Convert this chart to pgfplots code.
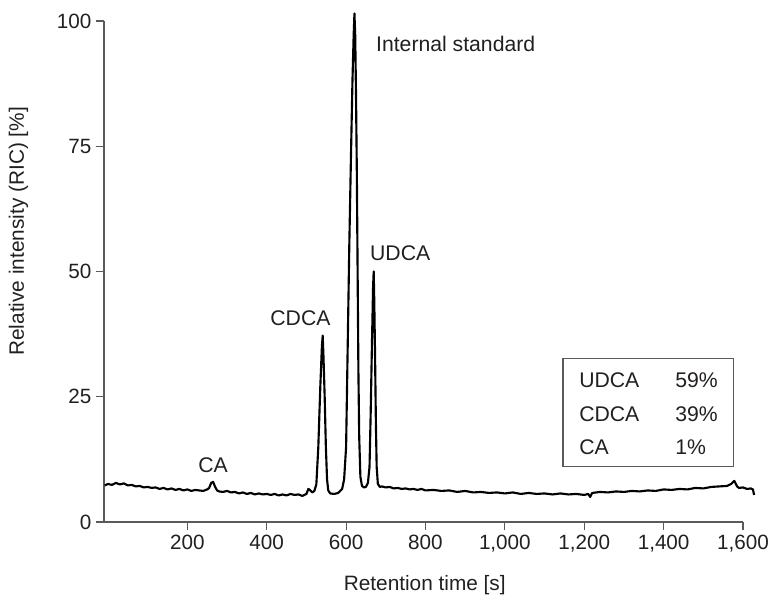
\documentclass[border=0pt]{standalone}
\usepackage{pgfplots}
\pgfplotsset{compat=1.18}
\usepackage{fontspec}
\setmainfont{Liberation Sans}
\definecolor{txt}{HTML}{231F20}
\definecolor{axc}{HTML}{5A5A5A}
\begin{document}
\begin{tikzpicture}[x=1pt,y=1pt]
\path[use as bounding box] (-78,-57.75) rectangle (508.5,391.5);
\begin{axis}[
  at={(0,0)}, anchor=south west,
  scale only axis, width=479.25pt, height=375.75pt,
  xmin=-10, xmax=1600, ymin=0, ymax=100,
  clip=false,
  axis lines*=left,
  axis line style={axc, line width=0.9pt},
  tick style={axc, line width=0.9pt},
  major tick length=6pt,
  tick align=outside,
  xtick={200,400,...,1600},
  ytick={0,25,50,75,100},
  /pgf/number format/assume math mode=true,
  /pgf/number format/1000 sep={,},
  tick label style={font=\fontsize{15.5}{18}\selectfont, text=txt},
  label style={font=\fontsize{15.6}{18}\selectfont, text=txt},
  xlabel={Retention time [s]},
  ylabel={Relative intensity (RIC) [\%]},
  xlabel style={at={(axis description cs:0.502,0)}, anchor=center, yshift=-47.25pt},
  ylabel style={at={(axis description cs:-0.1338,0.58)}, anchor=center},
]
\addplot[black, line width=1.6pt, line join=round, mark=none] coordinates {
(-8,7.3)(0,7.6)(10,7.4)(20,7.8)(30,7.5)(40,7.7)(50,7.3)(60,7.4)(70,7.1)(80,7.2)
(90,6.9)(100,7.0)(110,6.8)(120,6.9)(130,6.6)(140,6.8)(150,6.5)(160,6.7)(170,6.4)(180,6.6)
(190,6.3)(200,6.5)(210,6.2)(220,6.4)(230,6.3)(240,6.2)(250,6.5)(255,6.8)(260,7.8)(265,8.0)
(270,7.0)(275,6.3)(280,6.1)(290,6.0)(300,6.2)(310,5.9)(320,6.0)(330,5.7)(340,5.9)(350,5.6)
(360,5.8)(370,5.5)(380,5.7)(390,5.5)(400,5.6)(410,5.4)(420,5.6)(430,5.3)(440,5.5)(450,5.3)
(460,5.6)(470,5.4)(480,5.5)(490,5.2)(500,5.6)(505,6.6)(510,6.3)(515,5.9)(520,6.2)(525,7.5)
(530,15)(535,27)(539,35)(541,37.2)(543,33)(546,25)(549,15)(552,8.5)(555,6.3)(560,5.7)
(570,5.6)(580,5.8)(590,6.6)(595,8.5)(600,15)(604,35)(608,55)(612,72)(616,88)(619,97)
(621,101.5)(623,97)(625,85)(627,70)(629,50)(631,30)(633,17)(636,9)(640,7.2)(645,6.9)
(650,7.0)(655,7.8)(659,11)(662,22)(665,35)(668,47)(669.5,50)(671,44)(673,33)(675,20)
(677,11)(680,7.6)(685,7.0)(690,7.1)(700,6.9)(710,7.0)(720,6.7)(730,6.8)(740,6.6)(750,6.7)
(760,6.5)(770,6.6)(780,6.4)(790,6.6)(800,6.3)(820,6.4)(840,6.2)(860,6.3)(880,6.0)(900,6.2)
(920,5.9)(940,6.0)(960,5.8)(980,5.9)(1000,5.7)(1020,5.9)(1040,5.6)(1060,5.8)(1080,5.6)(1100,5.7)
(1120,5.5)(1140,5.7)(1160,5.5)(1180,5.6)(1200,5.4)(1210,5.6)(1215,5.0)(1220,5.8)(1240,6.0)(1260,5.9)
(1280,6.1)(1300,6.0)(1320,6.2)(1340,6.1)(1360,6.3)(1380,6.2)(1400,6.5)(1420,6.4)(1440,6.6)(1460,6.5)
(1480,6.8)(1500,6.7)(1520,7.0)(1540,7.1)(1560,7.2)(1570,7.6)(1578,8.2)(1585,7.1)(1590,6.8)(1600,6.9)
(1610,6.6)(1620,6.7)(1625,6.5)(1628,5.4)
};
\node[anchor=west, text=txt, font=\fontsize{15.9}{18}\selectfont, inner sep=0pt] at (axis cs:675,95.4) {Internal standard};
\node[anchor=west, text=txt, font=\fontsize{15.9}{18}\selectfont, inner sep=0pt] at (axis cs:660,53.6) {UDCA};
\node[anchor=center, text=txt, font=\fontsize{15.9}{18}\selectfont, inner sep=0pt] at (axis cs:485,40.6) {CDCA};
\node[anchor=center, text=txt, font=\fontsize{15.9}{18}\selectfont, inner sep=0pt] at (axis cs:264.6,11.4) {CA};
\draw[axc, line width=0.8pt] (axis cs:1146.5,11.0) rectangle (axis cs:1577,32.7);
\node[anchor=west, text=txt, font=\fontsize{15.9}{18}\selectfont, inner sep=0pt] at (axis cs:1186.8,28.3) {UDCA};
\node[anchor=west, text=txt, font=\fontsize{15.9}{18}\selectfont, inner sep=0pt] at (axis cs:1186.8,21.6) {CDCA};
\node[anchor=west, text=txt, font=\fontsize{15.9}{18}\selectfont, inner sep=0pt] at (axis cs:1186.8,15.0) {CA};
\node[anchor=west, text=txt, font=\fontsize{15.9}{18}\selectfont, inner sep=0pt] at (axis cs:1428.7,28.3) {59\%};
\node[anchor=west, text=txt, font=\fontsize{15.9}{18}\selectfont, inner sep=0pt] at (axis cs:1428.7,21.6) {39\%};
\node[anchor=west, text=txt, font=\fontsize{15.9}{18}\selectfont, inner sep=0pt] at (axis cs:1428.7,15.0) {1\%};
\end{axis}
\end{tikzpicture}
\end{document}
